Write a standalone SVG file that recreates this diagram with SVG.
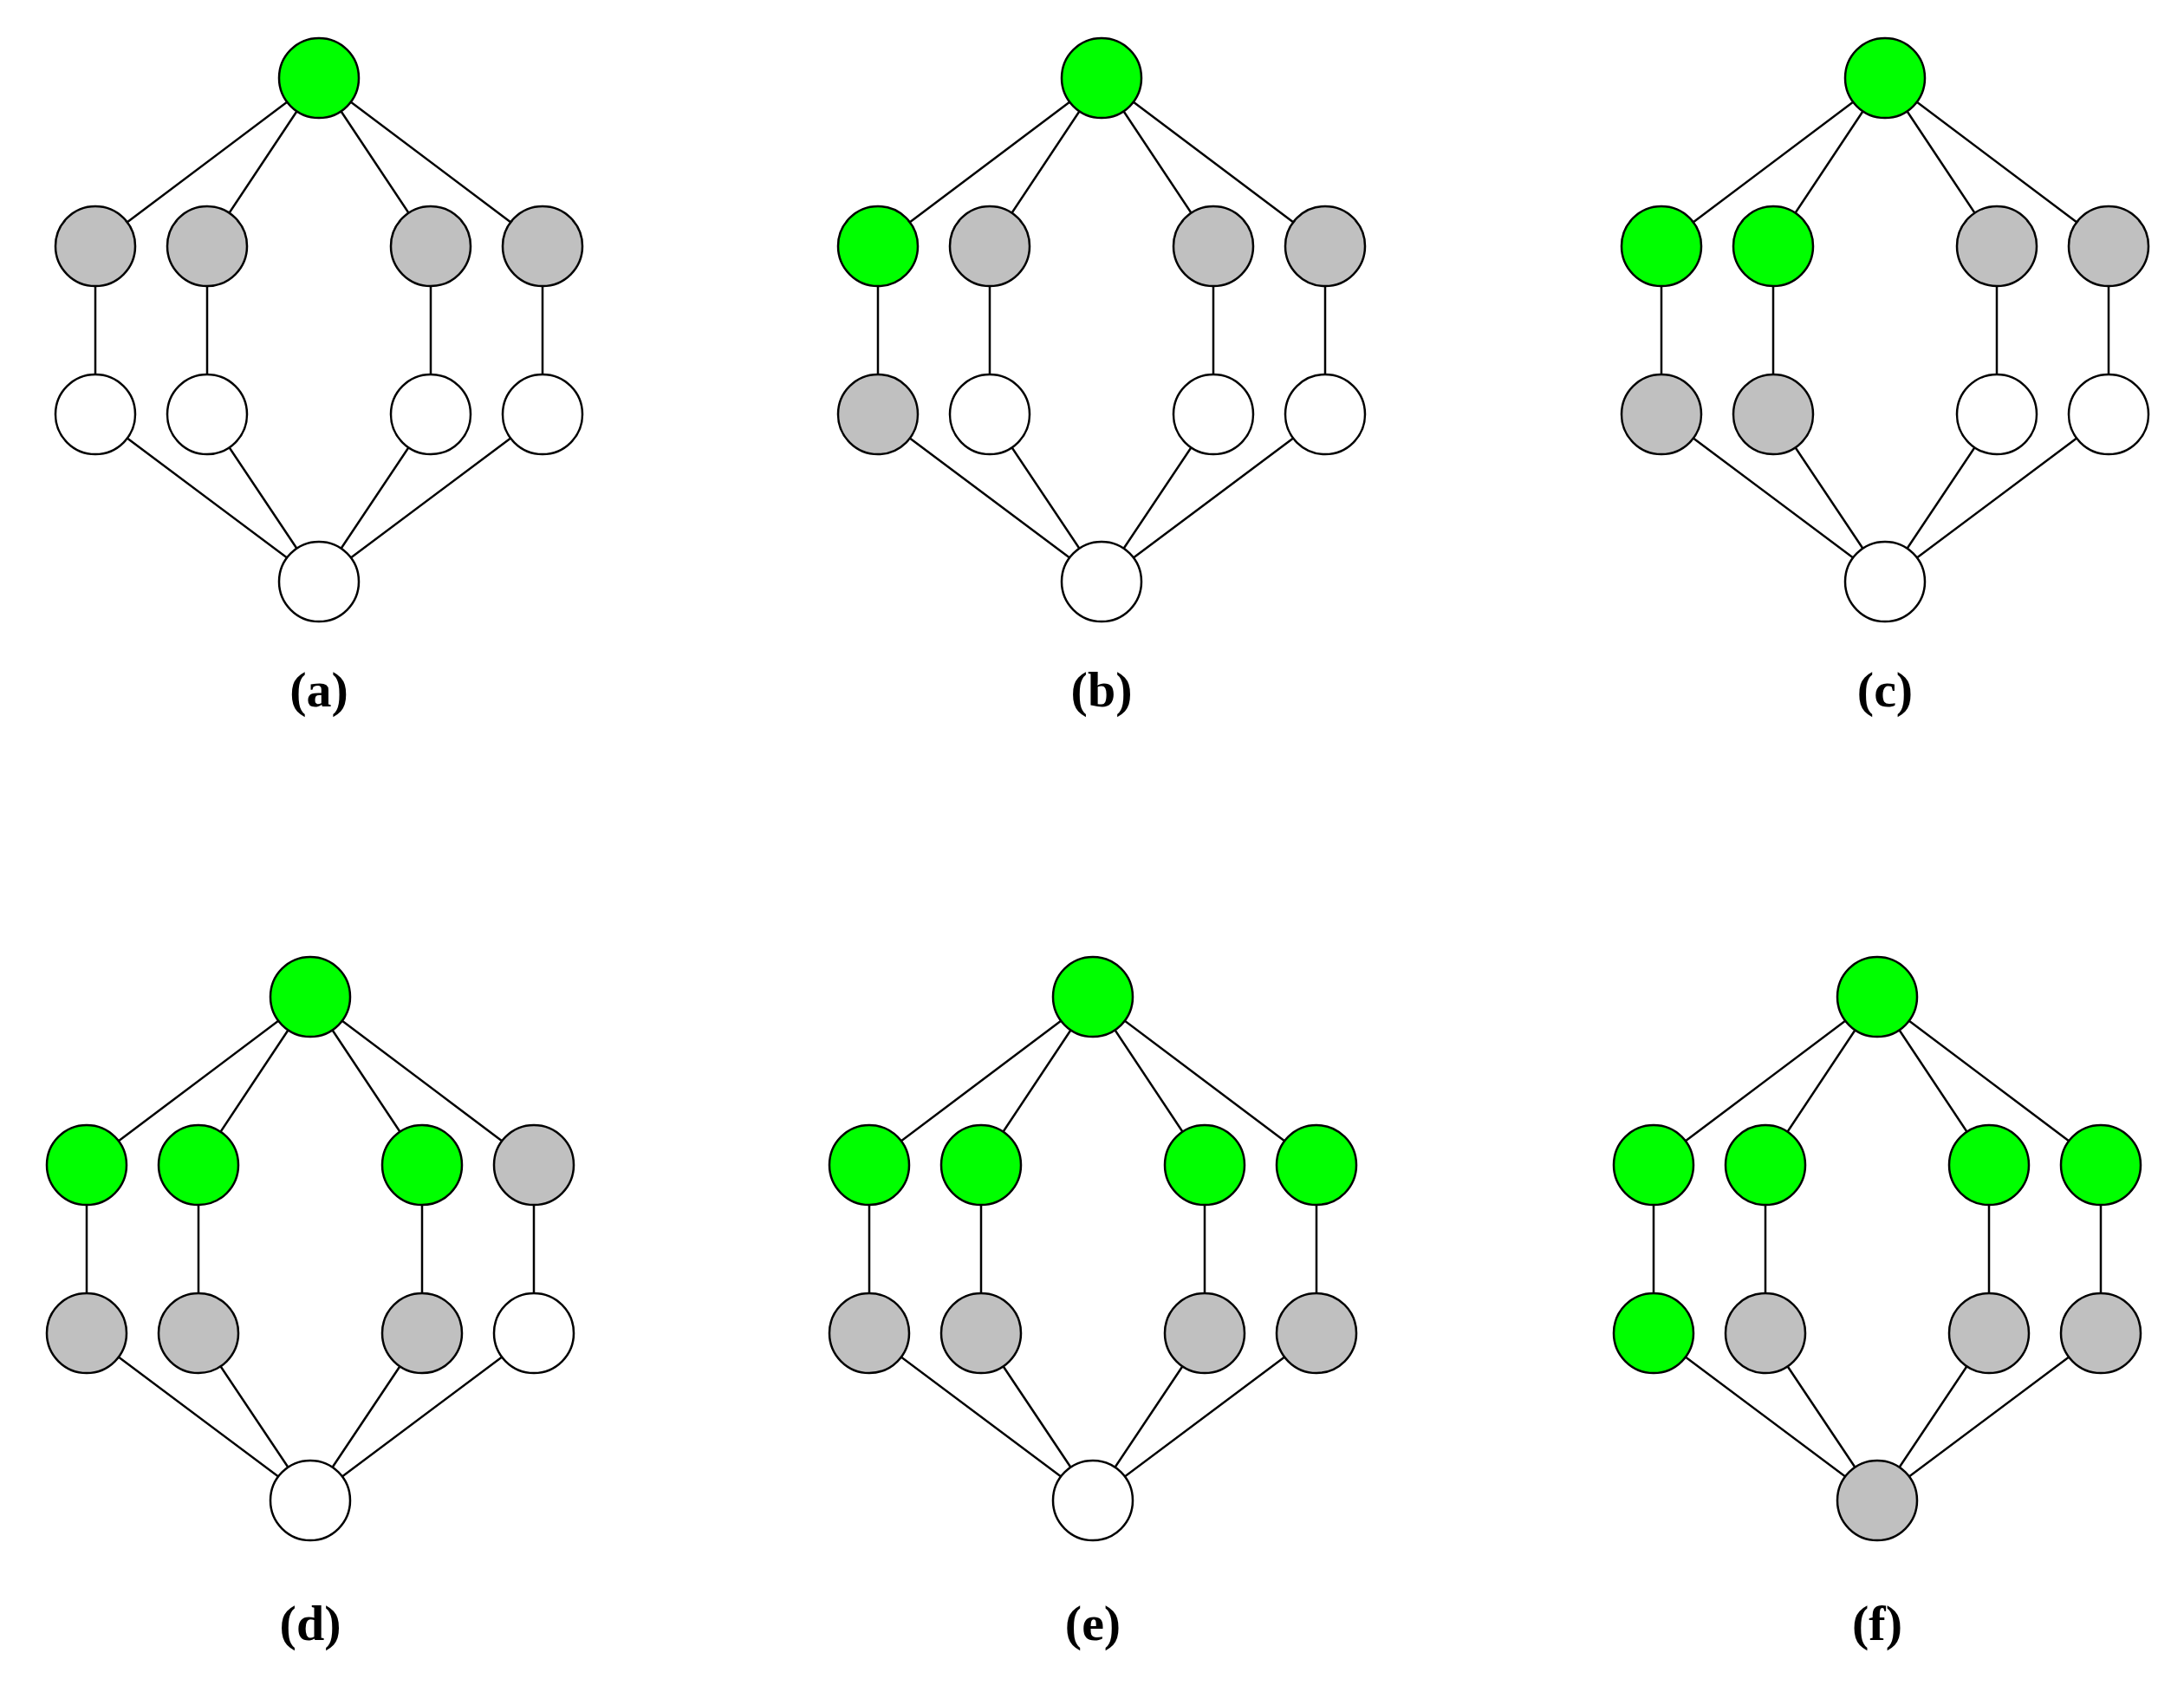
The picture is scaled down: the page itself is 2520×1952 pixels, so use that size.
<svg xmlns="http://www.w3.org/2000/svg" width="2520" height="1952" viewBox="0 0 2520 1952">
<style>
.e{stroke:#000;stroke-width:2.5;fill:none}
circle{stroke:#000;stroke-width:2.5}
.g{fill:#00ff00}.s{fill:#c0c0c0}.w{fill:#fff}
text{font-family:"Liberation Serif",serif;font-weight:bold;font-size:58px;text-anchor:middle}
</style>
<rect width="2520" height="1952" fill="#fff"/>
<defs>
<g id="edges">
<path class="e" d="M0,0L-258,194M0,0L-129,194M0,0L129,194M0,0L258,194M-258,194V388M-129,194V388M129,194V388M258,194V388M-258,388L0,581M-129,388L0,581M129,388L0,581M258,388L0,581"/>
</g>
</defs>
<g id="connectors">
<use href="#edges" x="368" y="90"/>
<use href="#edges" x="1271" y="90"/>
<use href="#edges" x="2175" y="90"/>
<use href="#edges" x="358" y="1150"/>
<use href="#edges" x="1261" y="1150"/>
<use href="#edges" x="2166" y="1150"/>
</g>
<g id="panel-a" transform="translate(368,90)">
<circle class="g" cx="0" cy="0" r="46"/>
<circle class="s" cx="-258" cy="194" r="46"/><circle class="s" cx="-129" cy="194" r="46"/><circle class="s" cx="129" cy="194" r="46"/><circle class="s" cx="258" cy="194" r="46"/>
<circle class="w" cx="-258" cy="388" r="46"/><circle class="w" cx="-129" cy="388" r="46"/><circle class="w" cx="129" cy="388" r="46"/><circle class="w" cx="258" cy="388" r="46"/>
<circle class="w" cx="0" cy="581" r="46"/>
<text x="0" y="725">(a)</text>
</g>
<g id="panel-b" transform="translate(1271,90)">
<circle class="g" cx="0" cy="0" r="46"/>
<circle class="g" cx="-258" cy="194" r="46"/><circle class="s" cx="-129" cy="194" r="46"/><circle class="s" cx="129" cy="194" r="46"/><circle class="s" cx="258" cy="194" r="46"/>
<circle class="s" cx="-258" cy="388" r="46"/><circle class="w" cx="-129" cy="388" r="46"/><circle class="w" cx="129" cy="388" r="46"/><circle class="w" cx="258" cy="388" r="46"/>
<circle class="w" cx="0" cy="581" r="46"/>
<text x="0" y="725">(b)</text>
</g>
<g id="panel-c" transform="translate(2175,90)">
<circle class="g" cx="0" cy="0" r="46"/>
<circle class="g" cx="-258" cy="194" r="46"/><circle class="g" cx="-129" cy="194" r="46"/><circle class="s" cx="129" cy="194" r="46"/><circle class="s" cx="258" cy="194" r="46"/>
<circle class="s" cx="-258" cy="388" r="46"/><circle class="s" cx="-129" cy="388" r="46"/><circle class="w" cx="129" cy="388" r="46"/><circle class="w" cx="258" cy="388" r="46"/>
<circle class="w" cx="0" cy="581" r="46"/>
<text x="0" y="725">(c)</text>
</g>
<g id="panel-d" transform="translate(358,1150)">
<circle class="g" cx="0" cy="0" r="46"/>
<circle class="g" cx="-258" cy="194" r="46"/><circle class="g" cx="-129" cy="194" r="46"/><circle class="g" cx="129" cy="194" r="46"/><circle class="s" cx="258" cy="194" r="46"/>
<circle class="s" cx="-258" cy="388" r="46"/><circle class="s" cx="-129" cy="388" r="46"/><circle class="s" cx="129" cy="388" r="46"/><circle class="w" cx="258" cy="388" r="46"/>
<circle class="w" cx="0" cy="581" r="46"/>
<text x="0" y="742">(d)</text>
</g>
<g id="panel-e" transform="translate(1261,1150)">
<circle class="g" cx="0" cy="0" r="46"/>
<circle class="g" cx="-258" cy="194" r="46"/><circle class="g" cx="-129" cy="194" r="46"/><circle class="g" cx="129" cy="194" r="46"/><circle class="g" cx="258" cy="194" r="46"/>
<circle class="s" cx="-258" cy="388" r="46"/><circle class="s" cx="-129" cy="388" r="46"/><circle class="s" cx="129" cy="388" r="46"/><circle class="s" cx="258" cy="388" r="46"/>
<circle class="w" cx="0" cy="581" r="46"/>
<text x="0" y="742">(e)</text>
</g>
<g id="panel-f" transform="translate(2166,1150)">
<circle class="g" cx="0" cy="0" r="46"/>
<circle class="g" cx="-258" cy="194" r="46"/><circle class="g" cx="-129" cy="194" r="46"/><circle class="g" cx="129" cy="194" r="46"/><circle class="g" cx="258" cy="194" r="46"/>
<circle class="g" cx="-258" cy="388" r="46"/><circle class="s" cx="-129" cy="388" r="46"/><circle class="s" cx="129" cy="388" r="46"/><circle class="s" cx="258" cy="388" r="46"/>
<circle class="s" cx="0" cy="581" r="46"/>
<text x="0" y="742">(f)</text>
</g>
</svg>
